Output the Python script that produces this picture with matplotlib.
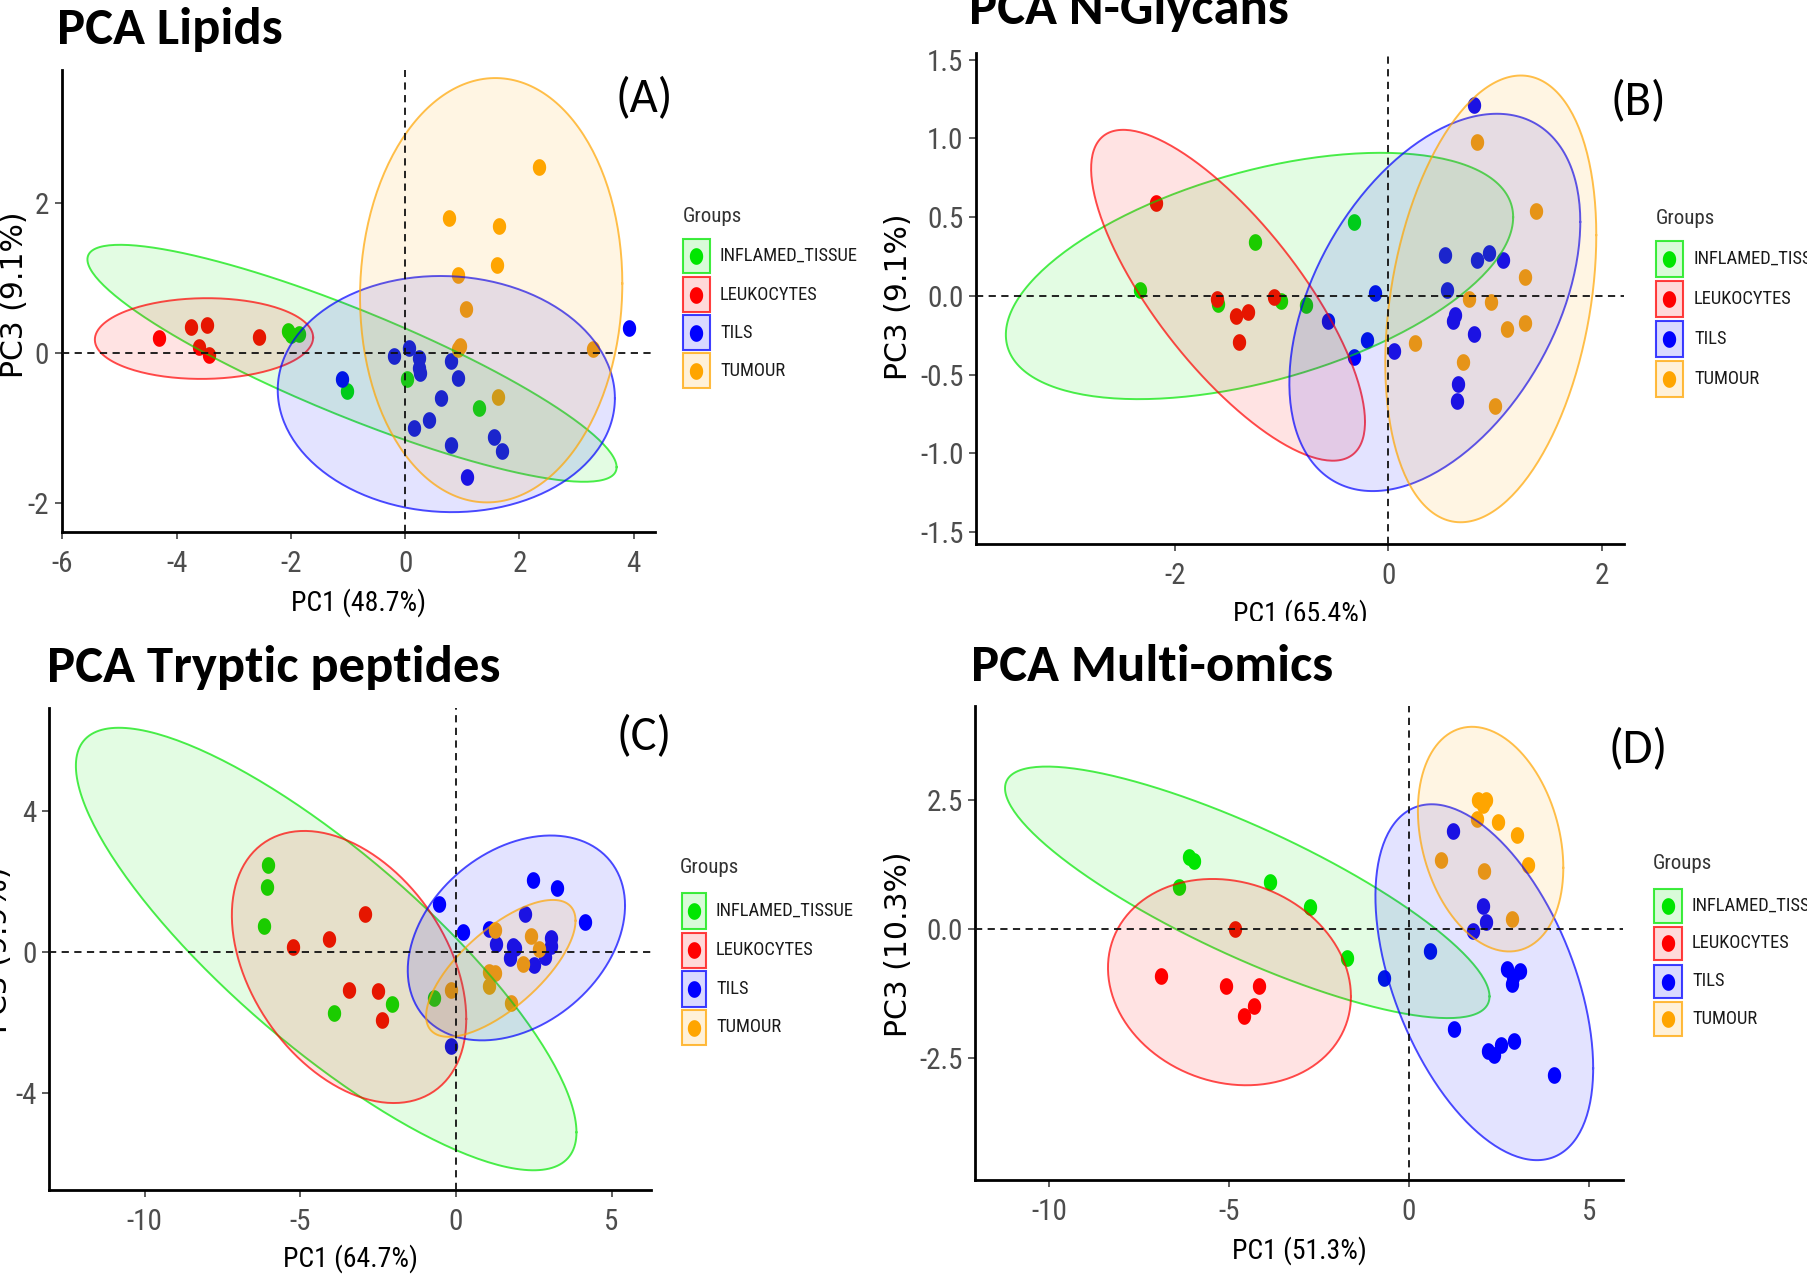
import numpy as np
import matplotlib
matplotlib.use("Agg")
import matplotlib.pyplot as plt
from matplotlib.path import Path
from matplotlib.patches import Rectangle
from matplotlib.lines import Line2D
from matplotlib.transforms import Bbox, TransformedBbox

# ---- data ---------------------------------------------------------------
groups = ["INFLAMED_TISSUE", "LEUKOCYTES", "TILS", "TUMOUR"]
group_colors = ["#00E600", "#FF0000", "#0000FF", "#FFA500"]

# (A) lipids
lip_inflamed = [(-2.05, 0.30), (-2.00, 0.24), (-1.85, 0.26), (-1.01, -0.50), (0.04, -0.34), (1.29, -0.73)]
lip_leuko = [(-4.30, 0.20), (-3.74, 0.35), (-3.47, 0.38), (-3.61, 0.08), (-3.43, -0.02), (-2.55, 0.22)]
lip_tils = [(-1.10, -0.35), (-0.19, -0.04), (0.06, 0.07), (0.24, -0.06), (0.24, -0.20), (0.26, -0.26),
            (0.80, -0.11), (0.93, -0.33), (0.62, -0.60), (0.42, -0.89), (0.15, -1.00), (0.80, -1.23),
            (1.56, -1.12), (1.69, -1.31), (1.08, -1.65), (3.92, 0.34)]
lip_tumour = [(2.35, 2.49), (0.77, 1.80), (1.65, 1.70), (1.61, 1.17), (0.93, 1.04), (1.06, 0.59),
              (0.96, 0.09), (0.92, 0.05), (3.28, 0.06), (1.63, -0.58)]
# ellipses: xmin, xmax, ymin, ymax, y at xmax
lip_ellipses = [(-5.56, 3.70, -1.715, 1.446, -1.52), (-5.43, -1.61, -0.343, 0.734, 0.21),
                (-2.23, 3.67, -2.12, 1.03, -0.60), (-0.79, 3.80, -1.99, 3.67, 0.93)]

# (B) N-glycans
gly_inflamed = [(-2.33, 0.04), (-1.60, -0.05), (-1.25, 0.34), (-1.01, -0.03), (-0.77, -0.06), (-0.32, 0.47)]
gly_leuko = [(-2.18, 0.59), (-1.61, -0.02), (-1.43, -0.13), (-1.32, -0.10), (-1.40, -0.29), (-1.07, -0.01)]
gly_tils = [(-0.57, -0.16), (-0.20, -0.28), (-0.32, -0.39), (-0.13, 0.02), (0.05, -0.35), (0.53, 0.26),
            (0.55, 0.04), (0.62, -0.12), (0.61, -0.16), (0.80, -0.24), (0.83, 0.23), (0.94, 0.27),
            (1.07, 0.23), (0.65, -0.56), (0.64, -0.67), (0.80, 1.21)]
gly_tumour = [(0.83, 0.98), (1.38, 0.54), (1.28, 0.12), (0.76, -0.02), (0.96, -0.04), (1.28, -0.17),
              (1.11, -0.21), (0.25, -0.30), (0.70, -0.42), (1.00, -0.70)]
gly_ellipses = [(-3.59, 1.17, -0.656, 0.909, 0.50), (-2.79, -0.22, -1.047, 1.055, -0.80),
                (-0.93, 1.80, -1.24, 1.157, 0.47), (-0.03, 1.95, -1.438, 1.40, 0.386)]

# (C) tryptic peptides
try_inflamed = [(-6.04, 2.47), (-6.07, 1.86), (-6.16, 0.75), (-3.93, -1.72), (-2.07, -1.47), (-0.71, -1.31)]
try_leuko = [(-5.25, 0.14), (-4.09, 0.38), (-2.93, 1.09), (-3.44, -1.07), (-2.50, -1.12), (-2.37, -1.93)]
try_tils = [(-0.53, 1.37), (0.23, 0.57), (-0.16, -2.67), (2.46, 2.04), (3.25, 1.83), (2.21, 1.09),
            (4.14, 0.86), (1.07, 0.66), (1.29, 0.22), (1.84, 0.17), (1.90, 0.10), (1.72, -0.16),
            (2.52, -0.37), (2.85, -0.13), (3.04, 0.39), (3.06, 0.17)]
try_tumour = [(1.25, 0.62), (2.42, 0.46), (2.67, 0.09), (2.15, -0.34), (1.05, -0.56), (1.25, -0.61),
              (1.05, -0.97), (-0.16, -1.07), (1.78, -1.44)]
try_ellipses = [(-12.21, 3.87, -6.20, 6.37, -5.12), (-7.20, 0.33, -4.29, 3.44, -1.90),
                (-1.55, 5.43, -2.51, 3.31, 1.32), (-0.96, 3.84, -2.41, 1.48, 0.89)]

# (D) multi-omics
mo_inflamed = [(-6.10, 1.40), (-5.98, 1.33), (-6.38, 0.81), (-3.85, 0.92), (-2.74, 0.44), (-1.73, -0.56)]
mo_leuko = [(-4.82, 0.01), (-6.88, -0.91), (-5.08, -1.10), (-4.16, -1.10), (-4.31, -1.48), (-4.59, -1.68)]
mo_tils = [(1.22, 1.90), (2.06, 0.45), (2.15, 0.15), (1.78, -0.03), (0.60, -0.42), (-0.68, -0.94),
           (2.72, -0.76), (3.08, -0.80), (2.89, -0.93), (2.86, -1.05), (1.25, -1.93), (2.19, -2.36),
           (2.36, -2.43), (2.57, -2.25), (2.91, -2.17), (4.02, -2.82)]
mo_tumour = [(1.93, 2.50), (2.15, 2.50), (2.06, 2.40), (1.90, 2.14), (2.47, 2.07), (3.00, 1.82),
             (0.88, 1.34), (2.10, 1.13), (3.32, 1.25), (2.87, 0.19)]
mo_ellipses = [(-11.22, 2.24, -1.72, 3.15, -1.30), (-8.36, -1.61, -3.02, 0.974, -1.30),
               (-0.93, 5.12, -4.47, 2.42, -2.69), (0.25, 4.29, -0.43, 3.92, 1.19)]

titles = ["PCA Lipids", "PCA N-Glycans", "PCA Tryptic peptides", "PCA Multi-omics"]
panel_tags = ["(A)", "(B)", "(C)", "(D)"]
xlabels = ["PC1 (48.7%)", "PC1 (65.4%)", "PC1 (64.7%)", "PC1 (51.3%)"]
ylabels = ["PC3 (9.1%)", "PC3 (9.1%)", "PC3 (9.9%)", "PC3 (10.3%)"]

lip_xticks, lip_yticks = [-6, -4, -2, 0, 2, 4], [-2, 0, 2]
gly_xticks, gly_yticks = [-2, 0, 2], [-1.5, -1.0, -0.5, 0.0, 0.5, 1.0, 1.5]
gly_yticklabels = ["-1.5", "-1.0", "-0.5", "0.0", "0.5", "1.0", "1.5"]
try_xticks, try_yticks = [-10, -5, 0, 5], [-4, 0, 4]
mo_xticks, mo_yticks = [-10, -5, 0, 5], [-2.5, 0.0, 2.5]
mo_yticklabels = ["-2.5", "0.0", "2.5"]

# ---- layout (pixels of the 1808x1283 canvas, measured from top-left) ----
W, H = 1808, 1283
NARROW = "Roboto Condensed"
WIDE = "DejaVu Sans"
TITLE = "Carlito"


def fx(x):
    return x / W


def fy(y):
    return 1 - y / H


t = np.linspace(0, 2 * np.pi, 60)
oval = Path(np.column_stack([0.8 * np.cos(t), np.sin(t)]))


def ellipse_xy(xmin, xmax, ymin, ymax, y_at_xmax):
    cx, a = (xmin + xmax) / 2, (xmax - xmin) / 2
    cy, b = (ymin + ymax) / 2, (ymax - ymin) / 2
    phi = np.arccos(np.clip((y_at_xmax - cy) / b, -1, 1))
    s = np.linspace(0, 2 * np.pi, 240)
    return cx + a * np.cos(s), cy + b * np.cos(s - phi)


fig = plt.figure(figsize=(W / 100, H / 100), dpi=100)
fig.patch.set_facecolor("white")


def draw_panel(box, xlim, ylim, xticks, xtl, yticks, ytl, pts_list, ellipses,
               xlabel, ylabel, xlab_top, ylab_right, ylab_mid):
    l, r, top, b = box
    ax = fig.add_axes([fx(l), fy(b), (r - l) / W, (b - top) / H])
    for pts, ell, col in zip(pts_list, ellipses, group_colors):
        p = np.array(pts)
        ax.plot(p[:, 0], p[:, 1], ls="none", marker=oval, ms=12, color=col, mew=0, zorder=2)
        ex, ey = ellipse_xy(*ell)
        ax.fill(ex, ey, color=col, alpha=0.11, lw=0, zorder=3)
        ax.plot(ex, ey, color=col, lw=1.4, alpha=0.7, zorder=3)
    ax.axhline(0, color="#111111", lw=1.3, ls=(0, (4, 3)), zorder=5)
    ax.axvline(0, color="#111111", lw=1.3, ls=(0, (4, 3)), zorder=5)
    ax.set_xlim(*xlim)
    ax.set_ylim(*ylim)
    ax.set_xticks(xticks)
    ax.set_xticklabels(xtl)
    ax.set_yticks(yticks)
    ax.set_yticklabels(ytl)
    for s in ["top", "right"]:
        ax.spines[s].set_visible(False)
    for s in ["left", "bottom"]:
        ax.spines[s].set_linewidth(2.0)
        ax.spines[s].set_color("black")
    ax.tick_params(axis="both", length=5, width=1.1, color="#333333",
                   labelcolor="#4D4D4D", labelsize=21)
    ax.tick_params(axis="x", pad=8)
    ax.tick_params(axis="y", pad=4)
    for lab in ax.get_xticklabels() + ax.get_yticklabels():
        lab.set_fontfamily(NARROW)
    ax.set_xlabel(xlabel, fontsize=20, fontfamily=NARROW, color="black")
    ax.xaxis.set_label_coords(0.5, -(xlab_top - b) / (b - top))
    ax.set_ylabel(ylabel, fontsize=21.5, fontfamily=WIDE, color="black")
    ax.yaxis.set_label_coords((ylab_right - l) / (r - l), (b - ylab_mid) / (b - top))
    ax.set_facecolor("white")
    return ax


def draw_legend(title_xy, key_x, item_ys, text_x):
    fig.text(fx(title_xy[0]), fy(title_xy[1]), "Groups", fontsize=15, fontfamily=NARROW,
             color="#333333", ha="left", va="center")
    k0, k1 = key_x
    kh = (item_ys[1] - item_ys[0]) - 4
    for name, col, yc in zip(groups, group_colors, item_ys):
        fig.patches.append(Rectangle((fx(k0), fy(yc + kh / 2)), (k1 - k0) / W, kh / H,
                                     transform=fig.transFigure, facecolor=col, alpha=0.15,
                                     edgecolor="none"))
        fig.patches.append(Rectangle((fx(k0), fy(yc + kh / 2)), (k1 - k0) / W, kh / H,
                                     transform=fig.transFigure, facecolor="none",
                                     edgecolor=col, lw=1.5, alpha=0.75))
        fig.lines.append(Line2D([fx((k0 + k1) / 2)], [fy(yc)], transform=fig.transFigure,
                                ls="none", marker=oval, ms=12, mew=0, color=col))
        fig.text(fx(text_x), fy(yc), name, fontsize=13.3, fontfamily=NARROW,
                 color="#1A1A1A", ha="left", va="center")


panels = [
    dict(box=(61.7, 654.9, 69.8, 532.4), xlim=(-6.01, 4.37), ylim=(-2.39, 3.78),
         xticks=lip_xticks, xtl=[str(v) for v in lip_xticks], yticks=lip_yticks,
         ytl=[str(v) for v in lip_yticks], pts=[lip_inflamed, lip_leuko, lip_tils, lip_tumour],
         ell=lip_ellipses, xlab_top=588, ylab_right=28.7, ylab_mid=295,
         title_xy=(57.4, 44), tag_xy=(644, 99),
         leg=((682.7, 216), (683, 710), [256, 294.5, 332.5, 370.5], 720)),
    dict(box=(976, 1624, 53, 544.3), xlim=(-3.87, 2.21), ylim=(-1.578, 1.543),
         xticks=gly_xticks, xtl=[str(v) for v in gly_xticks], yticks=gly_yticks,
         ytl=gly_yticklabels, pts=[gly_inflamed, gly_leuko, gly_tils, gly_tumour],
         ell=gly_ellipses, xlab_top=599.4, ylab_right=913, ylab_mid=296.5,
         title_xy=(969.5, 24.5), tag_xy=(1638, 102),
         leg=((1655.6, 218), (1655.7, 1682.8), [259, 299, 339, 379], 1694)),
    dict(box=(49.1, 651.5, 707.7, 1190), xlim=(-13.07, 6.28), ylim=(-6.76, 6.94),
         xticks=try_xticks, xtl=[str(v) for v in try_xticks], yticks=try_yticks,
         ytl=[str(v) for v in try_yticks], pts=[try_inflamed, try_leuko, try_tils, try_tumour],
         ell=try_ellipses, xlab_top=1244, ylab_right=13, ylab_mid=950,
         title_xy=(47, 682), tag_xy=(644, 737),
         leg=((680, 867.6), (682, 706), [910.6, 950.4, 989.3, 1027.5], 716)),
    dict(box=(975.5, 1622.7, 705.6, 1179.8), xlim=(-12.04, 5.94), ylim=(-4.85, 4.33),
         xticks=mo_xticks, xtl=[str(v) for v in mo_xticks], yticks=mo_yticks,
         ytl=mo_yticklabels, pts=[mo_inflamed, mo_leuko, mo_tils, mo_tumour],
         ell=mo_ellipses, xlab_top=1236.5, ylab_right=913, ylab_mid=944,
         title_xy=(970.6, 681), tag_xy=(1638, 750),
         leg=((1652.8, 863.5), (1654, 1682), [905.7, 943.4, 981.5, 1019.3], 1692)),
]

axes = []
for i, p in enumerate(panels):
    ax = draw_panel(p["box"], p["xlim"], p["ylim"], p["xticks"], p["xtl"], p["yticks"], p["ytl"],
                    p["pts"], p["ell"], xlabels[i], ylabels[i], p["xlab_top"], p["ylab_right"],
                    p["ylab_mid"])
    axes.append(ax)
    fig.text(fx(p["title_xy"][0]), fy(p["title_xy"][1]), titles[i], fontsize=38,
             fontfamily=TITLE, fontweight="bold", ha="left", va="baseline")
    fig.text(fx(p["tag_xy"][0]), fy(p["tag_xy"][1]), panel_tags[i], fontsize=35,
             fontfamily=TITLE, ha="center", va="center")
    draw_legend(*p["leg"])

# the N-Glycans x label is cut by the panel below it in the source figure
clip = TransformedBbox(Bbox([[0, fy(621)], [1, 1]]), fig.transFigure)
axes[1].xaxis.label.set_clip_box(clip)
axes[1].xaxis.label.set_clip_on(True)

fig.savefig("out.png", dpi=100, facecolor="white")
